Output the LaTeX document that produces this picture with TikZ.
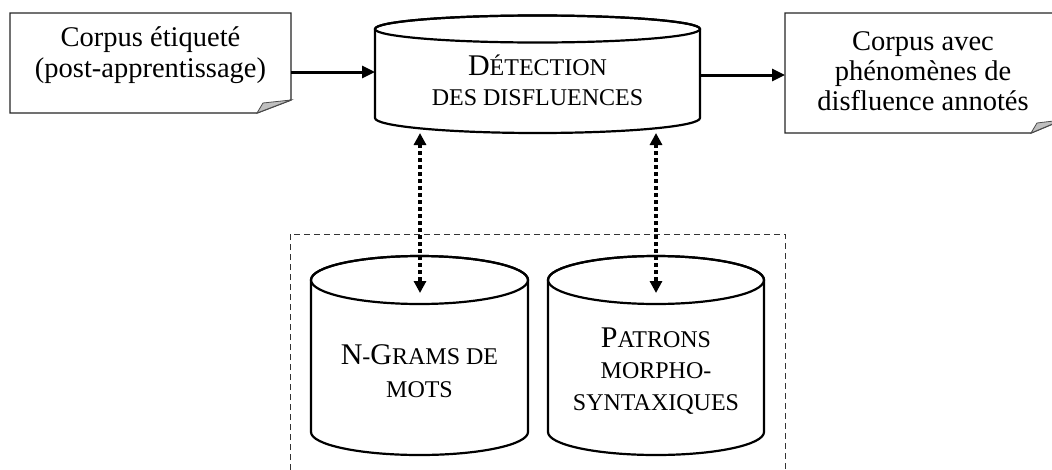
\documentclass[tikz,border=0pt]{standalone}
\usepackage{fontspec}
\setmainfont{Liberation Serif}
\usetikzlibrary{arrows.meta}
\newcommand\smc[1]{{\fontsize{24}{32}\selectfont #1}}
\tikzset{
  doc/.style={draw=black!85, line width=1.4pt, fill=white},
  fold/.style={draw=black!70, line width=0.8pt, fill=black!25},
  cyl/.style={draw=black, line width=2.2pt, fill=white},
  txt/.style={align=center, inner sep=0pt, font=\fontsize{28.5}{31}\selectfont},
  head/.style={align=center, inner sep=0pt, font=\fontsize{30}{31}\selectfont},
  flow/.style={line width=3pt, -{Triangle[width=12pt,length=13pt]}},
  link/.style={line width=4pt, dash pattern=on 4pt off 3pt, {Triangle[width=12pt,length=12pt]}-{Triangle[width=12pt,length=12pt]}},
  group/.style={draw=black!80, line width=1pt, dash pattern=on 6pt off 4pt}
}
\begin{document}
\begin{tikzpicture}[x=1pt,y=1pt]
\path[use as bounding box] (0,0) rectangle (1052,-469);
\clip (0,0) rectangle (1052,-469);
% dashed group
\draw[group] (290,-480) -- (290,-234) -- (785,-234) -- (785,-480);
% left document
\path[doc] (10,-13) -- (291,-13) -- (291,-100) -- (257,-113) -- (10,-113) -- cycle;
\path[fold] (257,-113) -- (263,-103) -- (291,-100) -- cycle;
\node[txt] (in) at (150.5,-55) {Corpus étiqueté\\(post-apprentissage)};
% right document
\path[doc] (785,-13) -- (1062,-13) -- (1062,-120) -- (1031,-133) -- (785,-133) -- cycle;
\path[fold] (1031,-133) -- (1037,-123) -- (1062,-120) -- cycle;
\node[txt, font=\fontsize{28.5}{30}\selectfont] (out) at (923,-71) {Corpus avec\\phénomènes de\\disfluence annotés};
% top cylinder
\path[cyl] (375,-29) -- (375,-118) arc[start angle=180,end angle=360,x radius=162.5,y radius=15] -- (700,-29) arc[start angle=0,end angle=180,x radius=162.5,y radius=13.5] -- cycle;
\draw[cyl, fill=none] (537.5,-29) ellipse[x radius=162.5, y radius=13.5];
\node[head, font=\fontsize{30}{30}\selectfont] (det) at (537.5,-80) {D\smc{ÉTECTION}\\\smc{DES DISFLUENCES}};
% lower left cylinder
\path[cyl] (311,-280) -- (311,-432) arc[start angle=180,end angle=360,x radius=108.5,y radius=23] -- (528,-280) arc[start angle=0,end angle=180,x radius=108.5,y radius=24] -- cycle;
\draw[cyl, fill=none] (419.5,-280) ellipse[x radius=108.5, y radius=24];
\node[head, font=\fontsize{30}{33}\selectfont] (ngr) at (419.5,-371) {N\smc{-}G\smc{RAMS DE}\\\smc{MOTS}};
% lower right cylinder
\path[cyl] (548,-280) -- (548,-432) arc[start angle=180,end angle=360,x radius=108,y radius=23] -- (764,-280) arc[start angle=0,end angle=180,x radius=108,y radius=24] -- cycle;
\draw[cyl, fill=none] (656,-280) ellipse[x radius=108, y radius=24];
\node[head, font=\fontsize{30}{31.5}\selectfont] (pat) at (656,-371) {P\smc{ATRONS}\\\smc{MORPHO-}\\\smc{SYNTAXIQUES}};
% connector end points
\coordinate (in-e) at (291,-72);
\coordinate (det-w) at (375,-72);
\coordinate (det-e) at (700,-75);
\coordinate (out-w) at (785,-75);
\coordinate (det-s1) at (420,-133);
\coordinate (ngr-n) at (420,-293);
\coordinate (det-s2) at (656,-133);
\coordinate (pat-n) at (656,-293);
% connectors
\draw[flow] (in-e) -- (det-w);
\draw[flow] (det-e) -- (out-w);
\draw[link] (det-s1) -- (ngr-n);
\draw[link] (det-s2) -- (pat-n);
\end{tikzpicture}
\end{document}
